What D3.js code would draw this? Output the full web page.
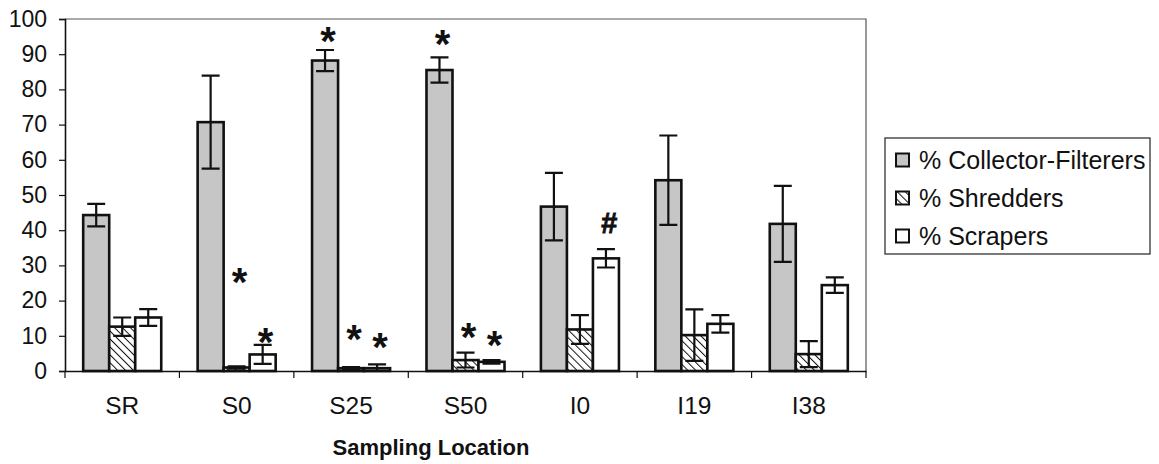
<!DOCTYPE html>
<html>
<head>
<meta charset="utf-8">
<script src="https://cdn.jsdelivr.net/npm/d3@7"></script>
<style>
  html, body { margin: 0; padding: 0; background: #fff; }
  svg { display: block; font-family: "Liberation Sans", Arial, sans-serif; }
</style>
</head>
<body>
<svg id="chart" width="1159" height="464"></svg>
<script>
// Functional feeding groups by sampling location (mean % with error bars)
const categories = ["SR", "S0", "S25", "S50", "I0", "I19", "I38"];
const seriesNames = ["% Collector-Filterers", "% Shredders", "% Scrapers"];

const collector    = [44.3, 70.7, 88.2, 85.5, 46.7, 54.2, 41.8];
const collectorErr = [3.2, 13.2, 3.0, 3.6, 9.6, 12.7, 10.8];
const shredders    = [12.6, 1.0, 0.8, 3.1, 11.8, 10.2, 4.8];
const shreddersErr = [2.6, 0.3, 0.3, 2.1, 4.1, 7.3, 3.7];
const scrapers     = [15.2, 4.7, 0.8, 2.6, 32.0, 13.4, 24.4];
const scrapersErr  = [2.4, 2.7, 1.1, 0.5, 2.6, 2.5, 2.2];

const yTicks = [0, 10, 20, 30, 40, 50, 60, 70, 80, 90, 100];

// Significance markers: category, series, height (in %) and symbol
const markCategory = ["S0", "S0", "S25", "S25", "S25", "S50", "S50", "S50", "I0"];
const markSeries   = [1, 2, 0, 1, 2, 0, 1, 2, 2];
const markLevel    = [27.8, 10.8, 96.4, 11.6, 9.4, 95.5, 12.2, 9.9, 42.1];
const markSymbol   = ["*", "*", "*", "*", "*", "*", "*", "*", "#"];

const seriesValues = [collector, shredders, scrapers];
const seriesErrors = [collectorErr, shreddersErr, scrapersErr];

const rows = [];
categories.forEach((c, i) => {
  seriesNames.forEach((s, j) => {
    rows.push({ cat: c, si: j, value: seriesValues[j][i], err: seriesErrors[j][i] });
  });
});

const svg = d3.select("#chart");
const plot = { left: 65, right: 866, top: 19, bottom: 371 };

const x = d3.scaleBand()
  .domain(categories)
  .range([plot.left, plot.right])
  .paddingInner(0.318)
  .paddingOuter(0.159);

const xs = d3.scaleBand()
  .domain(d3.range(seriesNames.length))
  .range([0, x.bandwidth()]);

const y = d3.scaleLinear().domain([0, 100]).range([plot.bottom, plot.top]);

// Fills: grey, diagonal hatch (falling to the right), white
const defs = svg.append("defs");
const hatch = defs.append("pattern")
  .attr("id", "hatch")
  .attr("patternUnits", "userSpaceOnUse")
  .attr("width", 5.6).attr("height", 5.6)
  .attr("patternTransform", "rotate(-45)");
hatch.append("rect").attr("width", 5.6).attr("height", 5.6).attr("fill", "#fff");
hatch.append("line")
  .attr("x1", 0).attr("y1", 0).attr("x2", 0).attr("y2", 5.6)
  .attr("stroke", "#111").attr("stroke-width", 2);

const fills = ["#c6c6c6", "url(#hatch)", "#ffffff"];

// Plot frame: thin top and right edges
svg.append("path")
  .attr("d", `M${plot.left},${plot.top}H${plot.right}V${plot.bottom}`)
  .attr("fill", "none")
  .attr("stroke", "#555")
  .attr("stroke-width", 1.2);

// Bars
svg.append("g").selectAll("rect")
  .data(rows)
  .join("rect")
  .attr("x", d => x(d.cat) + xs(d.si))
  .attr("y", d => y(d.value))
  .attr("width", xs.bandwidth())
  .attr("height", d => y(0) - y(d.value))
  .attr("fill", d => fills[d.si])
  .attr("stroke", "#111")
  .attr("stroke-width", 2.6);

// Error bars
const capW = 18;
const eb = svg.append("g").attr("stroke", "#111").attr("stroke-width", 2.2).attr("fill", "none");
eb.selectAll("path")
  .data(rows)
  .join("path")
  .attr("d", d => {
    const cx = x(d.cat) + xs(d.si) + xs.bandwidth() / 2;
    const hi = y(d.value + d.err), lo = y(Math.max(0, d.value - d.err));
    return `M${cx - capW / 2},${hi}H${cx + capW / 2}M${cx},${hi}V${lo}M${cx - capW / 2},${lo}H${cx + capW / 2}`;
  });

// Y axis
const yAxis = svg.append("g")
  .attr("transform", `translate(${plot.left},0)`)
  .call(d3.axisLeft(y).tickValues(yTicks).tickSize(6).tickPadding(12));
yAxis.select(".domain").attr("stroke", "#111").attr("stroke-width", 1.6);
yAxis.selectAll(".tick line").attr("stroke", "#111").attr("stroke-width", 1.2);
yAxis.selectAll(".tick text")
  .attr("font-size", 23)
  .attr("fill", "#111")
  .style("font-family", "'Liberation Sans', Arial, sans-serif");

// X axis: labels centred, ticks on category boundaries
const xAxis = svg.append("g")
  .attr("transform", `translate(0,${plot.bottom})`)
  .call(d3.axisBottom(x).tickSize(0).tickPadding(0));
xAxis.select(".domain").attr("stroke", "#111").attr("stroke-width", 1.6);
xAxis.selectAll(".tick text")
  .attr("y", 43).attr("dy", 0)
  .attr("font-size", 24.5)
  .attr("fill", "#111")
  .style("font-family", "'Liberation Sans', Arial, sans-serif");

const boundaries = d3.range(categories.length + 1)
  .map(i => plot.left + i * x.step());
xAxis.selectAll(".bound")
  .data(boundaries)
  .join("line")
  .attr("class", "bound")
  .attr("x1", d => d).attr("x2", d => d)
  .attr("y1", 0).attr("y2", 7)
  .attr("stroke", "#111").attr("stroke-width", 1.2);

svg.append("text")
  .attr("x", 431).attr("y", 455)
  .attr("text-anchor", "middle")
  .attr("font-size", 22)
  .attr("font-weight", "bold")
  .attr("fill", "#111")
  .text("Sampling Location");

// Significance markers
svg.append("g").selectAll("text")
  .data(markSymbol.map((s, i) => ({ s, cat: markCategory[i], si: markSeries[i], lv: markLevel[i] })))
  .join("text")
  .attr("x", d => x(d.cat) + xs(d.si) + xs.bandwidth() / 2 + 3)
  .attr("y", d => y(d.lv))
  .attr("text-anchor", "middle")
  .attr("font-weight", "bold")
  .attr("font-style", d => d.s === "#" ? "italic" : "normal")
  .attr("fill", "#111")
  .attr("stroke", d => d.s === "#" ? "#111" : "none")
  .attr("stroke-width", 0.8)
  .attr("font-size", d => d.s === "*" ? 40 : 29)
  .attr("dy", d => d.s === "*" ? "0.58em" : "0.36em")
  .text(d => d.s);

// Legend
const lg = svg.append("g");
lg.append("rect")
  .attr("x", 885).attr("y", 138)
  .attr("width", 265).attr("height", 116)
  .attr("fill", "#fff")
  .attr("stroke", "#222").attr("stroke-width", 1.2);
const rowY = [160, 198, 236];
seriesNames.forEach((name, j) => {
  lg.append("rect")
    .attr("x", 896).attr("y", rowY[j] - 6.5)
    .attr("width", 13).attr("height", 13)
    .attr("fill", fills[j])
    .attr("stroke", "#111").attr("stroke-width", 2);
  lg.append("text")
    .attr("x", 919).attr("y", rowY[j])
    .attr("dy", "0.36em")
    .attr("font-size", 25)
    .attr("fill", "#111")
    .text(name);
});
</script>
</body>
</html>
